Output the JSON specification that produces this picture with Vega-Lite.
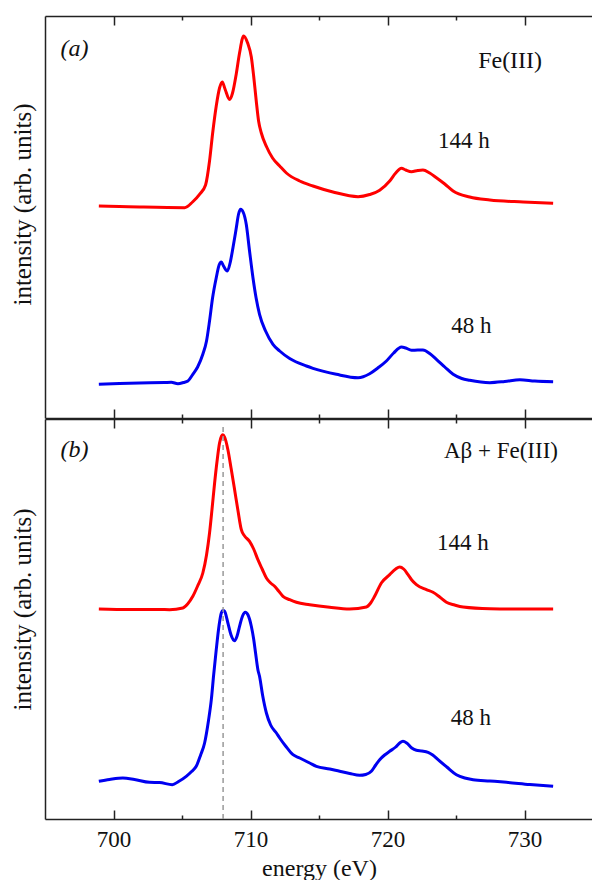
{
  "$schema": "https://vega.github.io/schema/vega-lite/v6.json",
  "padding": {"left": 10, "top": 15, "right": 0, "bottom": 0},
  "background": "white",
  "spacing": -3,
  "config": {"view": {"stroke": null}, "font": "Liberation Serif"},
  "datasets": {
    "spectra": [
      {"p":"a","s":"144 h","e":698.93,"i":212},
      {"p":"a","s":"144 h","e":700.44,"i":211.5},
      {"p":"a","s":"144 h","e":701.9,"i":211},
      {"p":"a","s":"144 h","e":705.19,"i":210.3},
      {"p":"a","s":"144 h","e":705.77,"i":216},
      {"p":"a","s":"144 h","e":706.28,"i":223.7},
      {"p":"a","s":"144 h","e":706.72,"i":233},
      {"p":"a","s":"144 h","e":707.01,"i":257},
      {"p":"a","s":"144 h","e":707.23,"i":284},
      {"p":"a","s":"144 h","e":707.5,"i":312},
      {"p":"a","s":"144 h","e":707.74,"i":330},
      {"p":"a","s":"144 h","e":707.94,"i":336},
      {"p":"a","s":"144 h","e":708.14,"i":329},
      {"p":"a","s":"144 h","e":708.47,"i":318.5},
      {"p":"a","s":"144 h","e":708.69,"i":325},
      {"p":"a","s":"144 h","e":708.96,"i":344},
      {"p":"a","s":"144 h","e":709.2,"i":365},
      {"p":"a","s":"144 h","e":709.5,"i":382},
      {"p":"a","s":"144 h","e":709.79,"i":375},
      {"p":"a","s":"144 h","e":710.06,"i":361},
      {"p":"a","s":"144 h","e":710.23,"i":342},
      {"p":"a","s":"144 h","e":710.42,"i":317},
      {"p":"a","s":"144 h","e":710.59,"i":297},
      {"p":"a","s":"144 h","e":710.79,"i":285},
      {"p":"a","s":"144 h","e":711.18,"i":271},
      {"p":"a","s":"144 h","e":711.61,"i":260},
      {"p":"a","s":"144 h","e":712.13,"i":252},
      {"p":"a","s":"144 h","e":712.62,"i":245},
      {"p":"a","s":"144 h","e":713.59,"i":237},
      {"p":"a","s":"144 h","e":714.56,"i":232},
      {"p":"a","s":"144 h","e":716.02,"i":226},
      {"p":"a","s":"144 h","e":717.85,"i":221.3},
      {"p":"a","s":"144 h","e":718.7,"i":223.5},
      {"p":"a","s":"144 h","e":719.43,"i":227.7},
      {"p":"a","s":"144 h","e":720.16,"i":237},
      {"p":"a","s":"144 h","e":720.6,"i":245},
      {"p":"a","s":"144 h","e":721.02,"i":249.7},
      {"p":"a","s":"144 h","e":721.33,"i":248},
      {"p":"a","s":"144 h","e":721.75,"i":246.3},
      {"p":"a","s":"144 h","e":722.21,"i":247.5},
      {"p":"a","s":"144 h","e":722.59,"i":248},
      {"p":"a","s":"144 h","e":723.08,"i":245},
      {"p":"a","s":"144 h","e":723.57,"i":240.3},
      {"p":"a","s":"144 h","e":724.18,"i":234},
      {"p":"a","s":"144 h","e":724.79,"i":227},
      {"p":"a","s":"144 h","e":726.0,"i":221},
      {"p":"a","s":"144 h","e":727.47,"i":218},
      {"p":"a","s":"144 h","e":729.9,"i":216},
      {"p":"a","s":"144 h","e":732.09,"i":214.7},

      {"p":"a","s":"48 h","e":698.93,"i":33.7},
      {"p":"a","s":"48 h","e":700.44,"i":34.5},
      {"p":"a","s":"48 h","e":701.9,"i":35},
      {"p":"a","s":"48 h","e":703.73,"i":35.5},
      {"p":"a","s":"48 h","e":704.22,"i":35.7},
      {"p":"a","s":"48 h","e":704.7,"i":34.3},
      {"p":"a","s":"48 h","e":705.11,"i":35.5},
      {"p":"a","s":"48 h","e":705.43,"i":37},
      {"p":"a","s":"48 h","e":705.79,"i":43.7},
      {"p":"a","s":"48 h","e":706.14,"i":51},
      {"p":"a","s":"48 h","e":706.52,"i":63.7},
      {"p":"a","s":"48 h","e":706.79,"i":77},
      {"p":"a","s":"48 h","e":707.01,"i":97},
      {"p":"a","s":"48 h","e":707.23,"i":120},
      {"p":"a","s":"48 h","e":707.5,"i":140.3},
      {"p":"a","s":"48 h","e":707.71,"i":153},
      {"p":"a","s":"48 h","e":707.87,"i":156},
      {"p":"a","s":"48 h","e":708.03,"i":152},
      {"p":"a","s":"48 h","e":708.31,"i":147},
      {"p":"a","s":"48 h","e":708.51,"i":155},
      {"p":"a","s":"48 h","e":708.72,"i":170.3},
      {"p":"a","s":"48 h","e":708.95,"i":189},
      {"p":"a","s":"48 h","e":709.13,"i":204},
      {"p":"a","s":"48 h","e":709.28,"i":208.7},
      {"p":"a","s":"48 h","e":709.46,"i":206},
      {"p":"a","s":"48 h","e":709.69,"i":193.7},
      {"p":"a","s":"48 h","e":709.93,"i":167},
      {"p":"a","s":"48 h","e":710.18,"i":140.3},
      {"p":"a","s":"48 h","e":710.41,"i":120},
      {"p":"a","s":"48 h","e":710.66,"i":103.7},
      {"p":"a","s":"48 h","e":711.1,"i":87},
      {"p":"a","s":"48 h","e":711.64,"i":73.7},
      {"p":"a","s":"48 h","e":712.13,"i":67},
      {"p":"a","s":"48 h","e":712.86,"i":59.5},
      {"p":"a","s":"48 h","e":714.08,"i":52},
      {"p":"a","s":"48 h","e":714.56,"i":49.7},
      {"p":"a","s":"48 h","e":716.27,"i":43.7},
      {"p":"a","s":"48 h","e":717.85,"i":40.3},
      {"p":"a","s":"48 h","e":718.7,"i":44.3},
      {"p":"a","s":"48 h","e":719.29,"i":50},
      {"p":"a","s":"48 h","e":719.92,"i":57},
      {"p":"a","s":"48 h","e":720.45,"i":65},
      {"p":"a","s":"48 h","e":721.02,"i":71},
      {"p":"a","s":"48 h","e":721.33,"i":70},
      {"p":"a","s":"48 h","e":721.75,"i":67.7},
      {"p":"a","s":"48 h","e":722.21,"i":68},
      {"p":"a","s":"48 h","e":722.59,"i":68},
      {"p":"a","s":"48 h","e":723.08,"i":64.5},
      {"p":"a","s":"48 h","e":723.57,"i":58.7},
      {"p":"a","s":"48 h","e":724.18,"i":51},
      {"p":"a","s":"48 h","e":724.79,"i":43.7},
      {"p":"a","s":"48 h","e":725.42,"i":39.5},
      {"p":"a","s":"48 h","e":726.0,"i":37.7},
      {"p":"a","s":"48 h","e":727.47,"i":35.3},
      {"p":"a","s":"48 h","e":728.56,"i":36.5},
      {"p":"a","s":"48 h","e":729.66,"i":38.3},
      {"p":"a","s":"48 h","e":730.75,"i":37},
      {"p":"a","s":"48 h","e":732.09,"i":36.3},

      {"p":"b","s":"144 h","e":698.93,"i":210},
      {"p":"b","s":"144 h","e":701.17,"i":209.5},
      {"p":"b","s":"144 h","e":703.36,"i":209.5},
      {"p":"b","s":"144 h","e":704.09,"i":209.3},
      {"p":"b","s":"144 h","e":705.06,"i":211},
      {"p":"b","s":"144 h","e":705.41,"i":215},
      {"p":"b","s":"144 h","e":705.79,"i":222.7},
      {"p":"b","s":"144 h","e":706.14,"i":233},
      {"p":"b","s":"144 h","e":706.52,"i":246},
      {"p":"b","s":"144 h","e":706.79,"i":264},
      {"p":"b","s":"144 h","e":707.01,"i":286},
      {"p":"b","s":"144 h","e":707.2,"i":311},
      {"p":"b","s":"144 h","e":707.38,"i":336},
      {"p":"b","s":"144 h","e":707.56,"i":358},
      {"p":"b","s":"144 h","e":707.74,"i":376},
      {"p":"b","s":"144 h","e":707.89,"i":383},
      {"p":"b","s":"144 h","e":707.98,"i":384.3},
      {"p":"b","s":"144 h","e":708.11,"i":382},
      {"p":"b","s":"144 h","e":708.35,"i":369.3},
      {"p":"b","s":"144 h","e":708.58,"i":351},
      {"p":"b","s":"144 h","e":708.84,"i":329.3},
      {"p":"b","s":"144 h","e":709.09,"i":308},
      {"p":"b","s":"144 h","e":709.33,"i":289.3},
      {"p":"b","s":"144 h","e":709.57,"i":283},
      {"p":"b","s":"144 h","e":709.93,"i":277.7},
      {"p":"b","s":"144 h","e":710.23,"i":270},
      {"p":"b","s":"144 h","e":710.54,"i":259.3},
      {"p":"b","s":"144 h","e":710.85,"i":250},
      {"p":"b","s":"144 h","e":711.16,"i":241},
      {"p":"b","s":"144 h","e":711.47,"i":236},
      {"p":"b","s":"144 h","e":711.76,"i":232.7},
      {"p":"b","s":"144 h","e":712.05,"i":228},
      {"p":"b","s":"144 h","e":712.37,"i":222.7},
      {"p":"b","s":"144 h","e":712.86,"i":219.3},
      {"p":"b","s":"144 h","e":713.35,"i":216.7},
      {"p":"b","s":"144 h","e":714.32,"i":214.3},
      {"p":"b","s":"144 h","e":715.78,"i":211.7},
      {"p":"b","s":"144 h","e":717.24,"i":210},
      {"p":"b","s":"144 h","e":718.46,"i":212},
      {"p":"b","s":"144 h","e":718.77,"i":216},
      {"p":"b","s":"144 h","e":719.06,"i":222.7},
      {"p":"b","s":"144 h","e":719.55,"i":236},
      {"p":"b","s":"144 h","e":720.16,"i":244.3},
      {"p":"b","s":"144 h","e":720.6,"i":250},
      {"p":"b","s":"144 h","e":720.89,"i":252},
      {"p":"b","s":"144 h","e":721.18,"i":250},
      {"p":"b","s":"144 h","e":721.5,"i":244.3},
      {"p":"b","s":"144 h","e":721.77,"i":239},
      {"p":"b","s":"144 h","e":722.11,"i":234.3},
      {"p":"b","s":"144 h","e":722.84,"i":229.3},
      {"p":"b","s":"144 h","e":723.32,"i":226.7},
      {"p":"b","s":"144 h","e":723.81,"i":222},
      {"p":"b","s":"144 h","e":724.3,"i":216.7},
      {"p":"b","s":"144 h","e":724.9,"i":214},
      {"p":"b","s":"144 h","e":725.52,"i":212},
      {"p":"b","s":"144 h","e":727.47,"i":210.3},
      {"p":"b","s":"144 h","e":729.66,"i":210},
      {"p":"b","s":"144 h","e":732.09,"i":210},

      {"p":"b","s":"48 h","e":698.93,"i":37.7},
      {"p":"b","s":"48 h","e":699.71,"i":39.5},
      {"p":"b","s":"48 h","e":700.68,"i":41},
      {"p":"b","s":"48 h","e":701.53,"i":39.5},
      {"p":"b","s":"48 h","e":702.63,"i":36.7},
      {"p":"b","s":"48 h","e":703.36,"i":36.5},
      {"p":"b","s":"48 h","e":704.29,"i":34.3},
      {"p":"b","s":"48 h","e":704.75,"i":37.5},
      {"p":"b","s":"48 h","e":705.31,"i":42.7},
      {"p":"b","s":"48 h","e":705.7,"i":47.5},
      {"p":"b","s":"48 h","e":706.04,"i":52.7},
      {"p":"b","s":"48 h","e":706.36,"i":64},
      {"p":"b","s":"48 h","e":706.65,"i":76},
      {"p":"b","s":"48 h","e":706.94,"i":99},
      {"p":"b","s":"48 h","e":707.14,"i":119.3},
      {"p":"b","s":"48 h","e":707.31,"i":144},
      {"p":"b","s":"48 h","e":707.5,"i":169.3},
      {"p":"b","s":"48 h","e":707.71,"i":194},
      {"p":"b","s":"48 h","e":707.87,"i":206},
      {"p":"b","s":"48 h","e":708.0,"i":208.5},
      {"p":"b","s":"48 h","e":708.11,"i":207.7},
      {"p":"b","s":"48 h","e":708.35,"i":196},
      {"p":"b","s":"48 h","e":708.58,"i":184},
      {"p":"b","s":"48 h","e":708.84,"i":178.2},
      {"p":"b","s":"48 h","e":709.02,"i":183},
      {"p":"b","s":"48 h","e":709.2,"i":192.7},
      {"p":"b","s":"48 h","e":709.42,"i":203},
      {"p":"b","s":"48 h","e":709.62,"i":206.7},
      {"p":"b","s":"48 h","e":709.82,"i":204},
      {"p":"b","s":"48 h","e":710.06,"i":192.7},
      {"p":"b","s":"48 h","e":710.23,"i":180},
      {"p":"b","s":"48 h","e":710.37,"i":166},
      {"p":"b","s":"48 h","e":710.54,"i":149.3},
      {"p":"b","s":"48 h","e":710.66,"i":142.7},
      {"p":"b","s":"48 h","e":710.88,"i":124},
      {"p":"b","s":"48 h","e":711.16,"i":106},
      {"p":"b","s":"48 h","e":711.47,"i":94},
      {"p":"b","s":"48 h","e":711.89,"i":86},
      {"p":"b","s":"48 h","e":712.13,"i":81},
      {"p":"b","s":"48 h","e":712.56,"i":73},
      {"p":"b","s":"48 h","e":713.1,"i":64.3},
      {"p":"b","s":"48 h","e":713.59,"i":61},
      {"p":"b","s":"48 h","e":714.32,"i":56},
      {"p":"b","s":"48 h","e":714.81,"i":52.7},
      {"p":"b","s":"48 h","e":715.78,"i":50},
      {"p":"b","s":"48 h","e":716.51,"i":47.7},
      {"p":"b","s":"48 h","e":717.24,"i":45.5},
      {"p":"b","s":"48 h","e":717.97,"i":43.7},
      {"p":"b","s":"48 h","e":718.41,"i":44.5},
      {"p":"b","s":"48 h","e":718.82,"i":47.7},
      {"p":"b","s":"48 h","e":719.14,"i":54},
      {"p":"b","s":"48 h","e":719.43,"i":59.3},
      {"p":"b","s":"48 h","e":719.79,"i":64},
      {"p":"b","s":"48 h","e":720.16,"i":67.7},
      {"p":"b","s":"48 h","e":720.6,"i":72},
      {"p":"b","s":"48 h","e":720.89,"i":76},
      {"p":"b","s":"48 h","e":721.13,"i":77.7},
      {"p":"b","s":"48 h","e":721.4,"i":76},
      {"p":"b","s":"48 h","e":721.77,"i":71},
      {"p":"b","s":"48 h","e":722.11,"i":68.7},
      {"p":"b","s":"48 h","e":722.5,"i":68},
      {"p":"b","s":"48 h","e":722.96,"i":66.7},
      {"p":"b","s":"48 h","e":723.3,"i":64},
      {"p":"b","s":"48 h","e":723.69,"i":59.3},
      {"p":"b","s":"48 h","e":724.33,"i":52},
      {"p":"b","s":"48 h","e":725.03,"i":44.3},
      {"p":"b","s":"48 h","e":725.64,"i":41},
      {"p":"b","s":"48 h","e":726.25,"i":39.3},
      {"p":"b","s":"48 h","e":727.47,"i":38},
      {"p":"b","s":"48 h","e":728.69,"i":36.7},
      {"p":"b","s":"48 h","e":730.39,"i":34.5},
      {"p":"b","s":"48 h","e":732.09,"i":32.7}
    ],
    "labels": [
      {"p":"a","t":"(a)","e":697.15,"i":369},
      {"p":"a","t":"Fe(III)","e":728.95,"i":357},
      {"p":"a","t":"144 h","e":725.57,"i":277},
      {"p":"a","t":"48 h","e":726.13,"i":92},
      {"p":"b","t":"(b)","e":697.15,"i":369},
      {"p":"b","t":"Aβ + Fe(III)","e":728.28,"i":368},
      {"p":"b","t":"144 h","e":725.5,"i":276},
      {"p":"b","t":"48 h","e":726.08,"i":101}
    ],
    "marker": [{"e":708,"y0":0,"y1":394}]
  },
  "vconcat": [
    {
      "width": 548,
      "height": 402,
      "layer": [
        {
          "data": {"name": "spectra"},
          "transform": [{"filter": "datum.p === 'a'"}],
          "mark": {"type": "line", "strokeWidth": 3, "interpolate": "monotone"},
          "encoding": {
            "x": {"field": "e", "type": "quantitative", "scale": {"domain": [695, 735], "nice": false, "zero": false},
                  "axis": {"orient": "bottom", "values": [700,710,720,730], "labels": false, "title": null, "grid": false,
                           "tickSize": -9, "tickColor": "#222", "tickWidth": 1.5, "domainColor": "#222", "domainWidth": 1.5}},
            "y": {"field": "i", "type": "quantitative", "scale": {"domain": [0, 402], "nice": false},
                  "axis": {"title": "intensity (arb. units)", "titleFont": "Liberation Serif", "titleFontSize": 25, "titleFontWeight": "normal",
                           "titleColor": "#111", "titlePadding": 10, "titleY": 188, "labels": false, "ticks": false, "grid": false,
                           "domainColor": "#222", "domainWidth": 1.5}},
            "color": {"field": "s", "type": "nominal", "scale": {"domain": ["144 h", "48 h"], "range": ["#ff0000", "#0000f0"]}, "legend": null}
          }
        },
        {
          "data": {"name": "labels"},
          "transform": [{"filter": "datum.p === 'a' && indexof(datum.t, ' h') > 0"}],
          "mark": {"type": "text", "font": "Liberation Serif", "fontSize": 23, "color": "#111", "align": "center", "baseline": "middle"},
          "encoding": {
            "x": {"field": "e", "type": "quantitative", "scale": {"domain": [695, 735], "nice": false, "zero": false},
                  "axis": {"orient": "top", "values": [700,710,720,730], "labels": false, "title": null, "grid": false,
                           "tickSize": -9, "tickColor": "#222", "tickWidth": 1.5, "domainColor": "#222", "domainWidth": 1.5}},
            "y": {"field": "i", "type": "quantitative", "axis": null},
            "text": {"field": "t"}
          }
        },
        {
          "data": {"name": "labels"},
          "transform": [{"filter": "datum.p === 'a' && datum.t === 'Fe(III)'"}],
          "mark": {"type": "text", "font": "Liberation Serif", "fontSize": 24, "color": "#111", "align": "center", "baseline": "middle"},
          "encoding": {
            "x": {"field": "e", "type": "quantitative", "scale": {"domain": [695, 735], "nice": false, "zero": false},
                  "axis": {"orient": "bottom", "values": [705,715,725], "labels": false, "title": null, "grid": false,
                           "tickSize": -4, "tickColor": "#222", "tickWidth": 1.5, "domain": false}},
            "y": {"field": "i", "type": "quantitative", "axis": null},
            "text": {"field": "t"}
          }
        },
        {
          "data": {"name": "labels"},
          "transform": [{"filter": "datum.p === 'a' && datum.t === '(a)'"}],
          "mark": {"type": "text", "font": "Liberation Serif", "fontSize": 24, "fontStyle": "italic", "color": "#111", "align": "center", "baseline": "middle"},
          "encoding": {
            "x": {"field": "e", "type": "quantitative", "scale": {"domain": [695, 735], "nice": false, "zero": false},
                  "axis": {"orient": "top", "values": [705,715,725], "labels": false, "title": null, "grid": false,
                           "tickSize": -4, "tickColor": "#222", "tickWidth": 1.5, "domain": false}},
            "y": {"field": "i", "type": "quantitative", "axis": null},
            "text": {"field": "t"}
          }
        }
      ],
      "resolve": {"axis": {"x": "independent", "y": "independent"}}
    },
    {
      "width": 548,
      "height": 400,
      "layer": [
        {
          "data": {"name": "spectra"},
          "transform": [{"filter": "datum.p === 'b'"}],
          "mark": {"type": "line", "strokeWidth": 3, "interpolate": "monotone"},
          "encoding": {
            "x": {"field": "e", "type": "quantitative", "scale": {"domain": [695, 735], "nice": false, "zero": false},
                  "axis": {"orient": "bottom", "values": [700,710,720,730], "grid": false,
                           "labelFont": "Liberation Serif", "labelFontSize": 23, "labelColor": "#111", "labelPadding": 18,
                           "title": "energy (eV)", "titleFont": "Liberation Serif", "titleFontSize": 24, "titleFontWeight": "normal",
                           "titleColor": "#111", "titlePadding": 5,
                           "tickSize": -9, "tickColor": "#222", "tickWidth": 1.5, "domainColor": "#222", "domainWidth": 1.5}},
            "y": {"field": "i", "type": "quantitative", "scale": {"domain": [0, 400], "nice": false},
                  "axis": {"title": "intensity (arb. units)", "titleFont": "Liberation Serif", "titleFontSize": 25, "titleFontWeight": "normal",
                           "titleColor": "#111", "titlePadding": 10, "titleY": 190, "labels": false, "ticks": false, "grid": false,
                           "domainColor": "#222", "domainWidth": 1.5}},
            "color": {"field": "s", "type": "nominal", "scale": {"domain": ["144 h", "48 h"], "range": ["#ff0000", "#0000f0"]}, "legend": null}
          }
        },
        {
          "data": {"name": "marker"},
          "mark": {"type": "rule", "color": "#999999", "strokeWidth": 1.5, "strokeDash": [5, 4]},
          "encoding": {
            "x": {"field": "e", "type": "quantitative", "axis": null},
            "y": {"field": "y0", "type": "quantitative", "axis": null},
            "y2": {"field": "y1"}
          }
        },
        {
          "data": {"name": "labels"},
          "transform": [{"filter": "datum.p === 'b' && indexof(datum.t, ' h') > 0"}],
          "mark": {"type": "text", "font": "Liberation Serif", "fontSize": 23, "color": "#111", "align": "center", "baseline": "middle"},
          "encoding": {
            "x": {"field": "e", "type": "quantitative", "scale": {"domain": [695, 735], "nice": false, "zero": false},
                  "axis": {"orient": "top", "values": [700,710,720,730], "labels": false, "title": null, "grid": false,
                           "tickSize": -9, "tickColor": "#222", "tickWidth": 1.5, "domainColor": "#222", "domainWidth": 1.5}},
            "y": {"field": "i", "type": "quantitative", "axis": null},
            "text": {"field": "t"}
          }
        },
        {
          "data": {"name": "labels"},
          "transform": [{"filter": "datum.p === 'b' && datum.t === 'Aβ + Fe(III)'"}],
          "mark": {"type": "text", "font": "Liberation Serif", "fontSize": 23, "color": "#111", "align": "center", "baseline": "middle"},
          "encoding": {
            "x": {"field": "e", "type": "quantitative", "scale": {"domain": [695, 735], "nice": false, "zero": false},
                  "axis": {"orient": "bottom", "values": [705,715,725], "labels": false, "title": null, "grid": false,
                           "tickSize": -4, "tickColor": "#222", "tickWidth": 1.5, "domain": false}},
            "y": {"field": "i", "type": "quantitative", "axis": null},
            "text": {"field": "t"}
          }
        },
        {
          "data": {"name": "labels"},
          "transform": [{"filter": "datum.p === 'b' && datum.t === '(b)'"}],
          "mark": {"type": "text", "font": "Liberation Serif", "fontSize": 24, "fontStyle": "italic", "color": "#111", "align": "center", "baseline": "middle"},
          "encoding": {
            "x": {"field": "e", "type": "quantitative", "scale": {"domain": [695, 735], "nice": false, "zero": false},
                  "axis": {"orient": "top", "values": [705,715,725], "labels": false, "title": null, "grid": false,
                           "tickSize": -4, "tickColor": "#222", "tickWidth": 1.5, "domain": false}},
            "y": {"field": "i", "type": "quantitative", "axis": null},
            "text": {"field": "t"}
          }
        }
      ],
      "resolve": {"axis": {"x": "independent", "y": "independent"}}
    }
  ]
}
